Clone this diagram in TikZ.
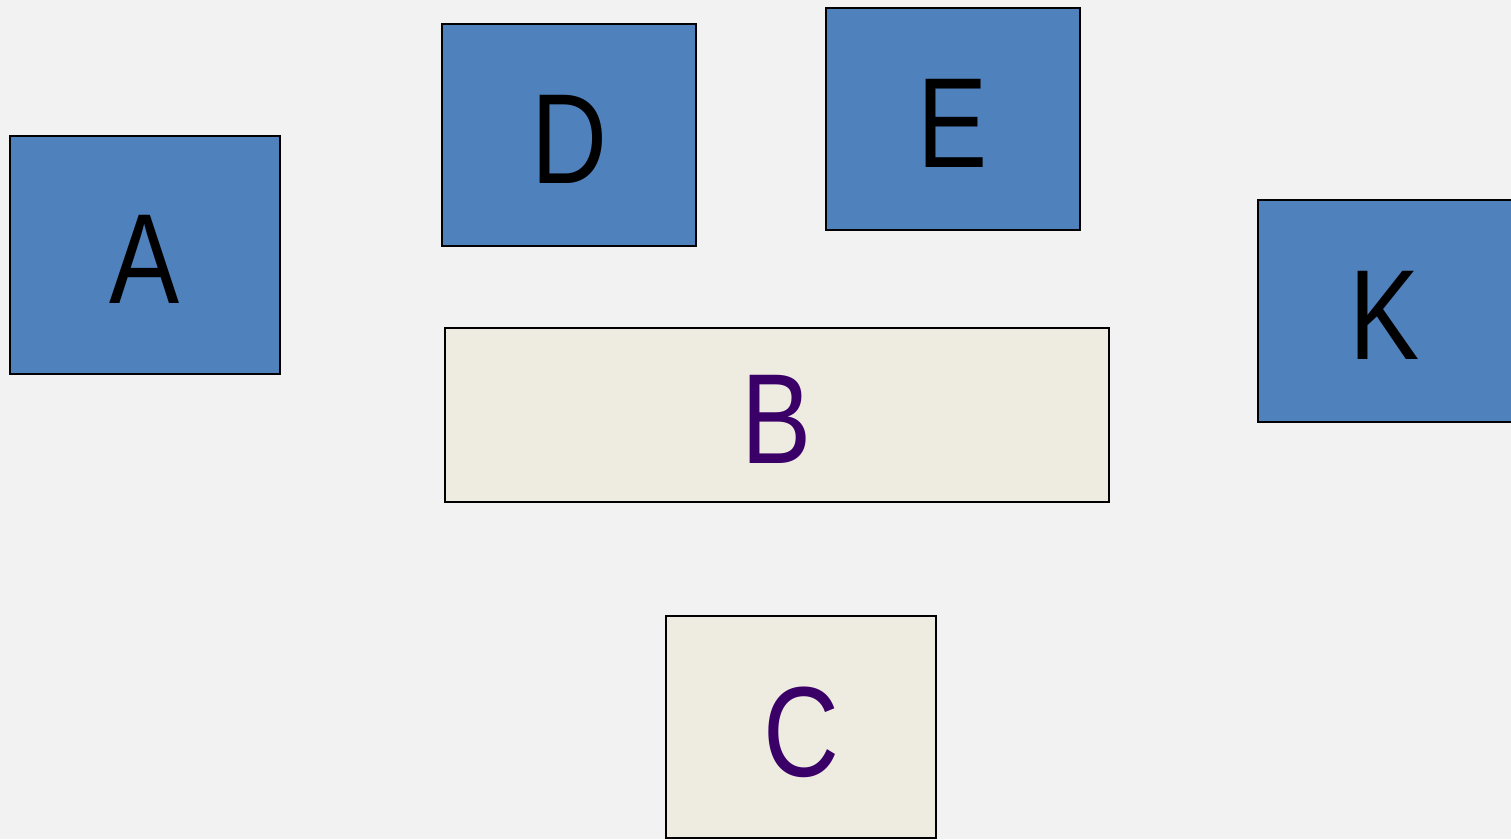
\documentclass[tikz,border=0pt]{standalone}
\usepackage{fontspec}
\setmainfont{Liberation Sans}[FakeStretch=0.82]
\usepackage{xcolor}
\usepackage{tikz}
\definecolor{fback}{HTML}{F2F2F2}
\definecolor{fblue}{HTML}{4F81BD}
\definecolor{fsand}{HTML}{EEECE1}
\definecolor{fplum}{HTML}{3A0068}

\begin{document}
\begin{tikzpicture}[x=0.02cm,y=-0.02cm,
  font=\fontsize{73}{86}\selectfont,
  bluebox/.style={draw=black,fill=fblue,line width=1.1pt,inner sep=0pt,
    text height=1.96cm,text depth=0pt,text=black},
  sandbox/.style={draw=black,fill=fsand,line width=1.1pt,inner sep=0pt,
    text height=1.96cm,text depth=0pt,text=fplum}]

% ================= canvas =================
\fill[fback] (0,0) rectangle (1511,839);
\useasboundingbox (0,0) rectangle (1511,839);

% ================= blue boxes =================
\node[bluebox,minimum width=5.4cm,minimum height=4.76cm] (boxA) at (145,255) {A};
\node[bluebox,minimum width=5.08cm,minimum height=4.44cm] (boxD) at (569,135) {D};
\node[bluebox,minimum width=5.08cm,minimum height=4.44cm] (boxE) at (953,119) {E};
\node[bluebox,minimum width=5.08cm,minimum height=4.44cm] (boxK) at (1385,311) {K};

% ================= sand boxes =================
\node[sandbox,minimum width=13.28cm,minimum height=3.48cm] (boxB) at (777,415) {B};
\node[sandbox,minimum width=5.4cm,minimum height=4.44cm] (boxC) at (801,727) {C};
\end{tikzpicture}
\end{document}
